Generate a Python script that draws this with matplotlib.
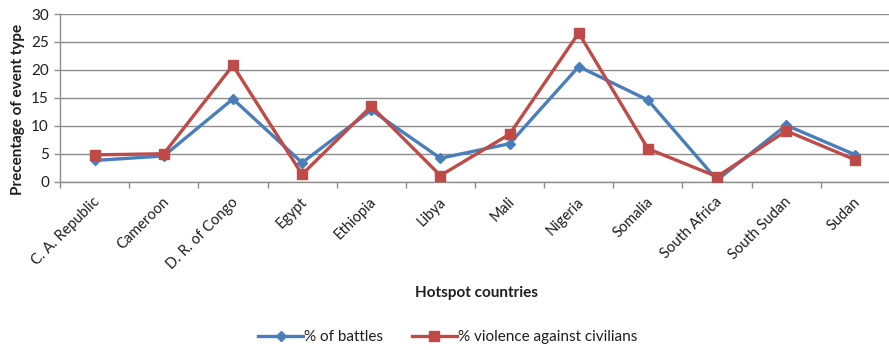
import matplotlib
matplotlib.use("Agg")
import matplotlib.pyplot as plt
import matplotlib.transforms as mtransforms
import numpy as np

plt.rcParams['font.family'] = ['Lato', 'DejaVu Sans']

countries = ["C. A. Republic", "Cameroon", "D. R. of Congo", "Egypt", "Ethiopia",
             "Libya", "Mali", "Nigeria", "Somalia", "South Africa",
             "South Sudan", "Sudan"]
battles = [3.8, 4.6, 14.8, 3.4, 12.8, 4.2, 6.8, 20.6, 14.6, 0.3, 10.1, 4.8]
violence = [4.8, 5.0, 20.8, 1.3, 13.5, 1.1, 8.5, 26.6, 5.9, 0.9, 9.1, 3.9]
y_ticks = [0, 5, 10, 15, 20, 25, 30]

blue = "#4A7EBB"
red = "#BE4B48"
grid_c = "#8C8C8C"
text_c = "#1E1E1E"

fig = plt.figure(figsize=(8.89, 3.5), dpi=100)
ax = fig.add_axes([60 / 889, 1 - 181.7 / 350, 830 / 889, (181.7 - 14) / 350])

x = np.arange(len(countries)) + 0.5
ax.plot(x, battles, color=blue, lw=2.4, marker='D', ms=5.5,
        mfc=blue, mec=blue, label="% of battles", zorder=3)
ax.plot(x, violence, color=red, lw=2.4, marker='s', ms=7.5,
        mfc=red, mec=red, label="% violence against civilians", zorder=4)

ax.set_xlim(0, len(countries))
ax.set_ylim(0, 30)
ax.set_yticks(y_ticks)
ax.yaxis.grid(True, color=grid_c, lw=1.0)
ax.set_axisbelow(True)

# category boundaries carry the tick marks, category centres carry the names
ax.set_xticks(np.arange(len(countries) + 1))
ax.set_xticklabels([])
ax.set_xticks(x, minor=True)
ax.set_xticklabels(countries, minor=True, rotation=45, ha='right',
                   va='center', rotation_mode='anchor', fontsize=10.5, color=text_c)
ax.tick_params(axis='x', which='minor', length=0, pad=13)
ax.tick_params(axis='x', which='major', length=4, color=grid_c, width=1)
ax.tick_params(axis='y', length=4, color=grid_c, width=1, labelsize=11,
               labelcolor=text_c, pad=4)
shift = mtransforms.ScaledTranslation(3 / 100, 0, fig.dpi_scale_trans)
for lab in ax.get_xticklabels(minor=True):
    lab.set_transform(lab.get_transform() + shift)

for s in ['top', 'right']:
    ax.spines[s].set_visible(False)
for s in ['left', 'bottom']:
    ax.spines[s].set_color(grid_c)
    ax.spines[s].set_linewidth(1.0)

ax.set_ylabel("Precentage of event type", fontsize=11, fontweight='bold',
              color=text_c)
ax.yaxis.set_label_coords(-0.042, 0.43)
fig.text(476 / 889, 1 - 293 / 350, "Hotspot countries", ha='center', va='center',
         fontsize=11, fontweight='bold', color=text_c)

fig.legend(loc='center', bbox_to_anchor=(448 / 889, 1 - 337 / 350), ncol=2,
           frameon=False, fontsize=11, handlelength=2.9, handletextpad=0.1,
           columnspacing=1.9, labelcolor=text_c)

fig.savefig("out.png", dpi=100)
